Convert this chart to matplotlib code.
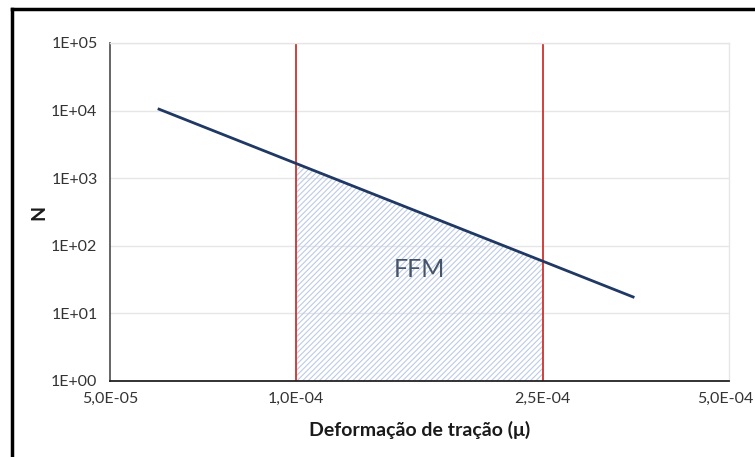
import matplotlib
matplotlib.use("Agg")
import matplotlib.pyplot as plt
from matplotlib.lines import Line2D
import matplotlib.transforms as mtransforms
import numpy as np

plt.rcParams['font.family'] = ['Lato', 'DejaVu Sans']
plt.rcParams['hatch.color'] = '#bccbe6'
plt.rcParams['hatch.linewidth'] = 0.8

# data
strain = [6.0e-5, 3.5e-4]
cycles = [1.05e4, 17.5]
limits = [1.0e-4, 2.5e-4]
xticks = [5e-5, 1e-4, 2.5e-4, 5e-4]
xticklabels = ['5,0E-05', '1,0E-04', '2,5E-04', '5,0E-04']
yticks = [1e0, 1e1, 1e2, 1e3, 1e4, 1e5]
yticklabels = ['1E+00', '1E+01', '1E+02', '1E+03', '1E+04', '1E+05']
region_label = 'FFM'

fig = plt.figure(figsize=(7.55, 4.57), dpi=100)
W, H = 755, 457
ax = fig.add_axes([110 / W, 1 - 381 / H, (729 - 110) / W, (381 - 43) / H])
ax.set_xscale('log')
ax.set_yscale('log')
ax.set_xlim(5e-5, 5e-4)
ax.set_ylim(1, 1e5)

# grid
for yv in yticks[1:]:
    ax.axhline(yv, color='#e6e6e6', lw=1.0, zorder=0)

# hatched region under the line between limits
lx = np.log10(strain)
ly = np.log10(cycles)
xs = np.logspace(np.log10(limits[0]), np.log10(limits[1]), 50)
ys = 10 ** np.interp(np.log10(xs), lx, ly)
ax.fill_between(xs, 1, ys, facecolor='none', edgecolor='#bccbe6', hatch='//////', lw=0, zorder=1)

ax.plot(strain, cycles, color='#1f3864', lw=2.0, zorder=3)
for xv in limits:
    ax.axvline(xv, color='#d0312d', lw=1.3, zorder=2)

ax.text(1.58e-4, 45, region_label, fontsize=18, color='#44546a', ha='center', va='center', zorder=4)

ax.set_xticks(xticks)
ax.set_xticklabels(xticklabels)
ax.set_yticks(yticks)
ax.set_yticklabels(yticklabels)
ax.minorticks_off()
ax.tick_params(axis='both', length=0, labelsize=11.5, colors='#333333', pad=9)
ax.tick_params(axis='x', pad=8)

# nudge the last x tick label so it stays inside the figure
last = ax.get_xticklabels()[-1]
last.set_transform(last.get_transform() + mtransforms.ScaledTranslation(-4 / 100, 0, fig.dpi_scale_trans))

for s in ['top', 'right']:
    ax.spines[s].set_color('#e6e6e6')
    ax.spines[s].set_linewidth(1.0)
ax.spines['left'].set_color('#595959')
ax.spines['left'].set_linewidth(1.3)
ax.spines['bottom'].set_color('#222222')
ax.spines['bottom'].set_linewidth(1.3)

ax.set_xlabel('Deformação de tração (μ)', fontsize=14, fontweight='bold', color='#1a1a1a', labelpad=11)
ax.set_ylabel('N', fontsize=14, fontweight='bold', color='#1a1a1a', labelpad=3)

# outer border
fig.add_artist(Line2D([12 / W, 1.0], [1 - 9 / H, 1 - 9 / H], color='black', lw=2.5, transform=fig.transFigure))
fig.add_artist(Line2D([12 / W, 12 / W], [0, 1 - 9 / H], color='black', lw=2.5, transform=fig.transFigure))

fig.savefig('out.png', dpi=100)
